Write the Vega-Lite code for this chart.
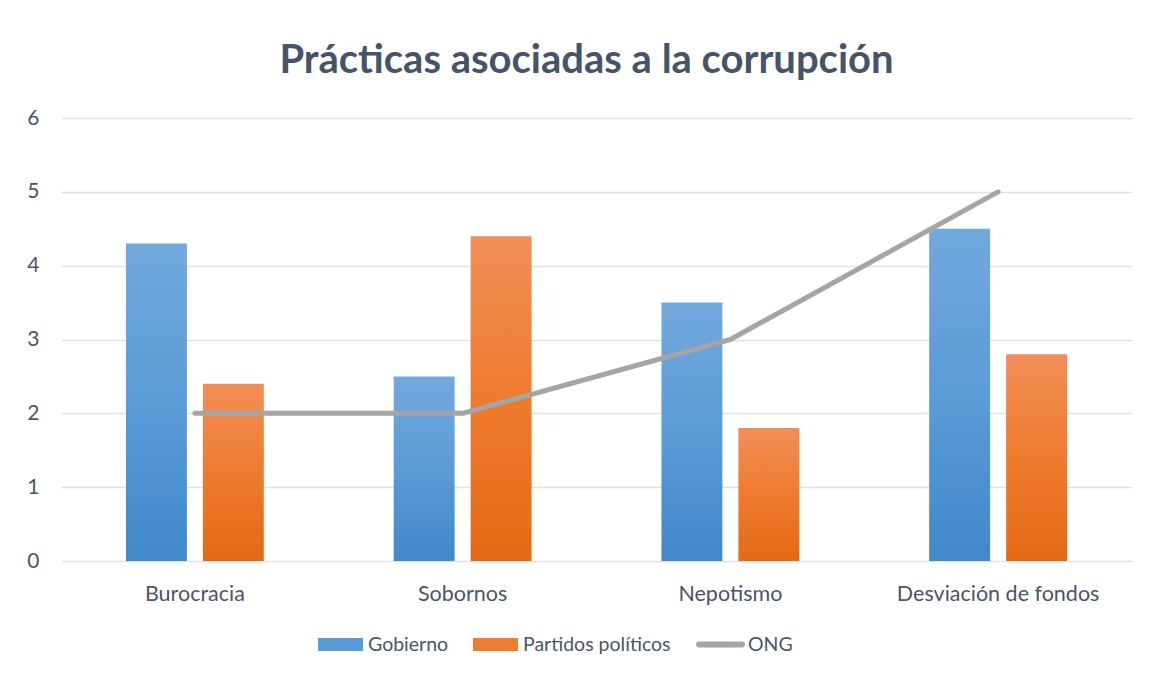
{
  "$schema": "https://vega.github.io/schema/vega-lite/v6.json",
  "width": 1071,
  "height": 443,
  "autosize": {"type": "none"},
  "padding": {"left": 61, "top": 118, "right": 17, "bottom": 116},
  "background": "white",
  "config": {"view": {"stroke": null}},
  "title": {"text": "Prácticas asociadas a la corrupción", "font": "Lato", "fontSize": 40, "fontWeight": "bold", "color": "#44546A", "anchor": "middle", "offset": 26, "dx": -10},
  "data": {"values": [
    {"categoria": "Burocracia", "serie": "Gobierno", "valor": 4.3},
    {"categoria": "Sobornos", "serie": "Gobierno", "valor": 2.5},
    {"categoria": "Nepotismo", "serie": "Gobierno", "valor": 3.5},
    {"categoria": "Desviación de fondos", "serie": "Gobierno", "valor": 4.5},
    {"categoria": "Burocracia", "serie": "Partidos políticos", "valor": 2.4},
    {"categoria": "Sobornos", "serie": "Partidos políticos", "valor": 4.4},
    {"categoria": "Nepotismo", "serie": "Partidos políticos", "valor": 1.8},
    {"categoria": "Desviación de fondos", "serie": "Partidos políticos", "valor": 2.8},
    {"categoria": "Burocracia", "serie": "ONG", "valor": 2},
    {"categoria": "Sobornos", "serie": "ONG", "valor": 2},
    {"categoria": "Nepotismo", "serie": "ONG", "valor": 3},
    {"categoria": "Desviación de fondos", "serie": "ONG", "valor": 5}
  ]},
  "encoding": {
    "x": {"field": "categoria", "type": "nominal", "sort": ["Burocracia", "Sobornos", "Nepotismo", "Desviación de fondos"],
      "scale": {"paddingInner": 0, "paddingOuter": 0},
      "axis": {"title": null, "labelAngle": 0, "domain": false, "ticks": false, "labelFont": "Lato", "labelFontSize": 21.5, "labelColor": "#4A5568", "labelPadding": 22, "labelLimit": 500, "grid": false}},
    "y": {"field": "valor", "type": "quantitative",
      "scale": {"domain": [0, 6], "nice": false},
      "axis": {"title": null, "values": [0, 1, 2, 3, 4, 5, 6], "domain": false, "ticks": false, "labelFont": "Lato", "labelFontSize": 21, "labelColor": "#4A5568", "labelPadding": 22, "gridColor": "#DDE1E6", "gridWidth": 1.5}}
  },
  "layer": [
    {
      "transform": [{"filter": "datum.serie == 'Gobierno'"}],
      "mark": {"type": "bar", "color": {"gradient": "linear", "x1": 0, "y1": 0, "x2": 0, "y2": 1, "stops": [{"offset": 0, "color": "#72A9DD"}, {"offset": 0.5, "color": "#5B9BD8"}, {"offset": 1, "color": "#4088C9"}]}},
      "encoding": {"xOffset": {"field": "serie", "scale": {"domain": ["Gobierno", "Partidos políticos"], "paddingInner": 0.208, "paddingOuter": 0.844}}}
    },
    {
      "transform": [{"filter": "datum.serie == 'Partidos políticos'"}],
      "mark": {"type": "bar", "color": {"gradient": "linear", "x1": 0, "y1": 0, "x2": 0, "y2": 1, "stops": [{"offset": 0, "color": "#F18E57"}, {"offset": 0.5, "color": "#EF7B2E"}, {"offset": 1, "color": "#E36A14"}]}},
      "encoding": {"xOffset": {"field": "serie", "scale": {"domain": ["Gobierno", "Partidos políticos"], "paddingInner": 0.208, "paddingOuter": 0.844}}}
    },
    {
      "transform": [{"filter": "datum.serie == 'ONG'"}],
      "mark": {"type": "line", "color": "#A5A5A5", "strokeWidth": 5, "strokeCap": "round", "strokeJoin": "round"},
      "encoding": {}
    },
    {
      "mark": {"type": "point", "filled": true, "opacity": 0},
      "encoding": {
        "color": {"field": "serie", "type": "nominal",
          "scale": {"domain": ["Gobierno", "Partidos políticos", "ONG"], "range": ["#5B9BD5", "#ED7D31", "#A5A5A5"]},
          "legend": {"title": null, "orient": "none", "legendX": 257, "legendY": 504, "direction": "horizontal", "symbolSize": 2025, "symbolOpacity": 1, "symbolStrokeWidth": 0, "labelFont": "Lato", "labelFontSize": 19.5, "labelColor": "#4A5568", "labelOffset": 5, "columnPadding": 24}},
        "shape": {"field": "serie", "type": "nominal",
          "scale": {"domain": ["Gobierno", "Partidos políticos", "ONG"], "range": ["M-1,-0.29H1V0.29H-1Z", "M-1,-0.29H1V0.29H-1Z", "M-0.96,-0.13H0.96A0.13,0.13 0 0 1 0.96,0.13H-0.96A0.13,0.13 0 0 1 -0.96,-0.13Z"]},
          "legend": {"title": null, "orient": "none", "legendX": 257, "legendY": 504, "direction": "horizontal", "symbolSize": 2025, "symbolOpacity": 1, "symbolStrokeWidth": 0, "labelFont": "Lato", "labelFontSize": 19.5, "labelColor": "#4A5568", "labelOffset": 5, "columnPadding": 24}}
      }
    }
  ]
}
